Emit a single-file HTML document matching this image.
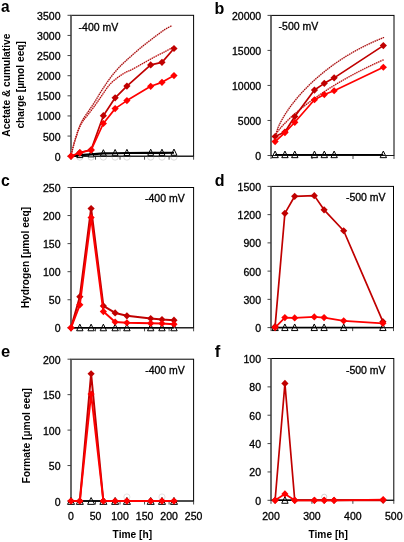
<!DOCTYPE html>
<html><head><meta charset="utf-8"><style>
html,body{margin:0;padding:0;background:#fff;}
svg{display:block;filter:blur(0.3px);}
.t{font-family:"Liberation Sans", sans-serif;font-size:10px;fill:#000;stroke:#000;stroke-width:0.3px;}
.b{font-family:"Liberation Sans", sans-serif;font-size:10.2px;font-weight:bold;fill:#000;}
.L{font-family:"Liberation Sans", sans-serif;font-size:17.2px;font-weight:bold;fill:#000;}
</style></head><body>
<svg width="404" height="542" viewBox="0 0 404 542">
<rect width="404" height="542" fill="#fff"/>
<rect x="71" y="15.3" width="122.6" height="140.9" fill="none" stroke="#000" stroke-width="1"/>
<line x1="71" y1="15.3" x2="71" y2="156.2" stroke="#666" stroke-width="1.7"/>
<line x1="67.5" y1="156.2" x2="71" y2="156.2" stroke="#333" stroke-width="0.9"/>
<line x1="67.5" y1="136.07" x2="71" y2="136.07" stroke="#333" stroke-width="0.9"/>
<line x1="67.5" y1="115.94" x2="71" y2="115.94" stroke="#333" stroke-width="0.9"/>
<line x1="67.5" y1="95.81" x2="71" y2="95.81" stroke="#333" stroke-width="0.9"/>
<line x1="67.5" y1="75.69" x2="71" y2="75.69" stroke="#333" stroke-width="0.9"/>
<line x1="67.5" y1="55.56" x2="71" y2="55.56" stroke="#333" stroke-width="0.9"/>
<line x1="67.5" y1="35.43" x2="71" y2="35.43" stroke="#333" stroke-width="0.9"/>
<line x1="67.5" y1="15.3" x2="71" y2="15.3" stroke="#333" stroke-width="0.9"/>
<line x1="71" y1="156.2" x2="71" y2="159.7" stroke="#333" stroke-width="0.9"/>
<line x1="95.52" y1="156.2" x2="95.52" y2="159.7" stroke="#333" stroke-width="0.9"/>
<line x1="120.04" y1="156.2" x2="120.04" y2="159.7" stroke="#333" stroke-width="0.9"/>
<line x1="144.56" y1="156.2" x2="144.56" y2="159.7" stroke="#333" stroke-width="0.9"/>
<line x1="169.08" y1="156.2" x2="169.08" y2="159.7" stroke="#333" stroke-width="0.9"/>
<line x1="193.6" y1="156.2" x2="193.6" y2="159.7" stroke="#333" stroke-width="0.9"/>
<text x="60.5" y="160.7" text-anchor="end" class="t" textLength="5.84" lengthAdjust="spacingAndGlyphs">0</text>
<text x="60.5" y="140.57" text-anchor="end" class="t" textLength="17.52" lengthAdjust="spacingAndGlyphs">500</text>
<text x="60.5" y="120.44" text-anchor="end" class="t" textLength="23.36" lengthAdjust="spacingAndGlyphs">1000</text>
<text x="60.5" y="100.31" text-anchor="end" class="t" textLength="23.36" lengthAdjust="spacingAndGlyphs">1500</text>
<text x="60.5" y="80.19" text-anchor="end" class="t" textLength="23.36" lengthAdjust="spacingAndGlyphs">2000</text>
<text x="60.5" y="60.06" text-anchor="end" class="t" textLength="23.36" lengthAdjust="spacingAndGlyphs">2500</text>
<text x="60.5" y="39.93" text-anchor="end" class="t" textLength="23.36" lengthAdjust="spacingAndGlyphs">3000</text>
<text x="60.5" y="19.8" text-anchor="end" class="t" textLength="23.36" lengthAdjust="spacingAndGlyphs">3500</text>
<rect x="271" y="15.4" width="123" height="140.1" fill="none" stroke="#000" stroke-width="1"/>
<line x1="271" y1="15.4" x2="271" y2="155.5" stroke="#666" stroke-width="1.7"/>
<line x1="267.5" y1="155.5" x2="271" y2="155.5" stroke="#333" stroke-width="0.9"/>
<line x1="267.5" y1="120.47" x2="271" y2="120.47" stroke="#333" stroke-width="0.9"/>
<line x1="267.5" y1="85.45" x2="271" y2="85.45" stroke="#333" stroke-width="0.9"/>
<line x1="267.5" y1="50.42" x2="271" y2="50.42" stroke="#333" stroke-width="0.9"/>
<line x1="267.5" y1="15.4" x2="271" y2="15.4" stroke="#333" stroke-width="0.9"/>
<line x1="271" y1="155.5" x2="271" y2="159" stroke="#333" stroke-width="0.9"/>
<line x1="312" y1="155.5" x2="312" y2="159" stroke="#333" stroke-width="0.9"/>
<line x1="353" y1="155.5" x2="353" y2="159" stroke="#333" stroke-width="0.9"/>
<line x1="394" y1="155.5" x2="394" y2="159" stroke="#333" stroke-width="0.9"/>
<text x="261.2" y="160" text-anchor="end" class="t" textLength="5.84" lengthAdjust="spacingAndGlyphs">0</text>
<text x="261.2" y="124.97" text-anchor="end" class="t" textLength="23.36" lengthAdjust="spacingAndGlyphs">5000</text>
<text x="261.2" y="89.95" text-anchor="end" class="t" textLength="29.2" lengthAdjust="spacingAndGlyphs">10000</text>
<text x="261.2" y="54.92" text-anchor="end" class="t" textLength="29.2" lengthAdjust="spacingAndGlyphs">15000</text>
<text x="261.2" y="19.9" text-anchor="end" class="t" textLength="29.2" lengthAdjust="spacingAndGlyphs">20000</text>
<rect x="71" y="187.5" width="122.6" height="140.3" fill="none" stroke="#000" stroke-width="1"/>
<line x1="71" y1="187.5" x2="71" y2="327.8" stroke="#666" stroke-width="1.7"/>
<line x1="67.5" y1="327.8" x2="71" y2="327.8" stroke="#333" stroke-width="0.9"/>
<line x1="67.5" y1="299.74" x2="71" y2="299.74" stroke="#333" stroke-width="0.9"/>
<line x1="67.5" y1="271.68" x2="71" y2="271.68" stroke="#333" stroke-width="0.9"/>
<line x1="67.5" y1="243.62" x2="71" y2="243.62" stroke="#333" stroke-width="0.9"/>
<line x1="67.5" y1="215.56" x2="71" y2="215.56" stroke="#333" stroke-width="0.9"/>
<line x1="67.5" y1="187.5" x2="71" y2="187.5" stroke="#333" stroke-width="0.9"/>
<line x1="71" y1="327.8" x2="71" y2="331.3" stroke="#333" stroke-width="0.9"/>
<line x1="95.52" y1="327.8" x2="95.52" y2="331.3" stroke="#333" stroke-width="0.9"/>
<line x1="120.04" y1="327.8" x2="120.04" y2="331.3" stroke="#333" stroke-width="0.9"/>
<line x1="144.56" y1="327.8" x2="144.56" y2="331.3" stroke="#333" stroke-width="0.9"/>
<line x1="169.08" y1="327.8" x2="169.08" y2="331.3" stroke="#333" stroke-width="0.9"/>
<line x1="193.6" y1="327.8" x2="193.6" y2="331.3" stroke="#333" stroke-width="0.9"/>
<text x="60.5" y="332.3" text-anchor="end" class="t" textLength="5.84" lengthAdjust="spacingAndGlyphs">0</text>
<text x="60.5" y="304.24" text-anchor="end" class="t" textLength="11.68" lengthAdjust="spacingAndGlyphs">50</text>
<text x="60.5" y="276.18" text-anchor="end" class="t" textLength="17.52" lengthAdjust="spacingAndGlyphs">100</text>
<text x="60.5" y="248.12" text-anchor="end" class="t" textLength="17.52" lengthAdjust="spacingAndGlyphs">150</text>
<text x="60.5" y="220.06" text-anchor="end" class="t" textLength="17.52" lengthAdjust="spacingAndGlyphs">200</text>
<text x="60.5" y="192" text-anchor="end" class="t" textLength="17.52" lengthAdjust="spacingAndGlyphs">250</text>
<rect x="271" y="186.4" width="122.5" height="141.2" fill="none" stroke="#000" stroke-width="1"/>
<line x1="271" y1="186.4" x2="271" y2="327.6" stroke="#666" stroke-width="1.7"/>
<line x1="267.5" y1="327.6" x2="271" y2="327.6" stroke="#333" stroke-width="0.9"/>
<line x1="267.5" y1="299.36" x2="271" y2="299.36" stroke="#333" stroke-width="0.9"/>
<line x1="267.5" y1="271.12" x2="271" y2="271.12" stroke="#333" stroke-width="0.9"/>
<line x1="267.5" y1="242.88" x2="271" y2="242.88" stroke="#333" stroke-width="0.9"/>
<line x1="267.5" y1="214.64" x2="271" y2="214.64" stroke="#333" stroke-width="0.9"/>
<line x1="267.5" y1="186.4" x2="271" y2="186.4" stroke="#333" stroke-width="0.9"/>
<line x1="271" y1="327.6" x2="271" y2="331.1" stroke="#333" stroke-width="0.9"/>
<line x1="311.83" y1="327.6" x2="311.83" y2="331.1" stroke="#333" stroke-width="0.9"/>
<line x1="352.67" y1="327.6" x2="352.67" y2="331.1" stroke="#333" stroke-width="0.9"/>
<line x1="393.5" y1="327.6" x2="393.5" y2="331.1" stroke="#333" stroke-width="0.9"/>
<text x="261" y="332.1" text-anchor="end" class="t" textLength="5.84" lengthAdjust="spacingAndGlyphs">0</text>
<text x="261" y="303.86" text-anchor="end" class="t" textLength="17.52" lengthAdjust="spacingAndGlyphs">300</text>
<text x="261" y="275.62" text-anchor="end" class="t" textLength="17.52" lengthAdjust="spacingAndGlyphs">600</text>
<text x="261" y="247.38" text-anchor="end" class="t" textLength="17.52" lengthAdjust="spacingAndGlyphs">900</text>
<text x="261" y="219.14" text-anchor="end" class="t" textLength="23.36" lengthAdjust="spacingAndGlyphs">1200</text>
<text x="261" y="190.9" text-anchor="end" class="t" textLength="23.36" lengthAdjust="spacingAndGlyphs">1500</text>
<rect x="71" y="359.2" width="122.6" height="141.8" fill="none" stroke="#000" stroke-width="1"/>
<line x1="71" y1="359.2" x2="71" y2="501" stroke="#666" stroke-width="1.7"/>
<line x1="67.5" y1="501" x2="71" y2="501" stroke="#333" stroke-width="0.9"/>
<line x1="67.5" y1="465.55" x2="71" y2="465.55" stroke="#333" stroke-width="0.9"/>
<line x1="67.5" y1="430.1" x2="71" y2="430.1" stroke="#333" stroke-width="0.9"/>
<line x1="67.5" y1="394.65" x2="71" y2="394.65" stroke="#333" stroke-width="0.9"/>
<line x1="67.5" y1="359.2" x2="71" y2="359.2" stroke="#333" stroke-width="0.9"/>
<line x1="71" y1="501" x2="71" y2="504.5" stroke="#333" stroke-width="0.9"/>
<line x1="95.52" y1="501" x2="95.52" y2="504.5" stroke="#333" stroke-width="0.9"/>
<line x1="120.04" y1="501" x2="120.04" y2="504.5" stroke="#333" stroke-width="0.9"/>
<line x1="144.56" y1="501" x2="144.56" y2="504.5" stroke="#333" stroke-width="0.9"/>
<line x1="169.08" y1="501" x2="169.08" y2="504.5" stroke="#333" stroke-width="0.9"/>
<line x1="193.6" y1="501" x2="193.6" y2="504.5" stroke="#333" stroke-width="0.9"/>
<text x="60.5" y="505.5" text-anchor="end" class="t" textLength="5.84" lengthAdjust="spacingAndGlyphs">0</text>
<text x="60.5" y="470.05" text-anchor="end" class="t" textLength="11.68" lengthAdjust="spacingAndGlyphs">50</text>
<text x="60.5" y="434.6" text-anchor="end" class="t" textLength="17.52" lengthAdjust="spacingAndGlyphs">100</text>
<text x="60.5" y="399.15" text-anchor="end" class="t" textLength="17.52" lengthAdjust="spacingAndGlyphs">150</text>
<text x="60.5" y="363.7" text-anchor="end" class="t" textLength="17.52" lengthAdjust="spacingAndGlyphs">200</text>
<rect x="271" y="358.5" width="122.8" height="141.8" fill="none" stroke="#000" stroke-width="1"/>
<line x1="271" y1="358.5" x2="271" y2="500.3" stroke="#666" stroke-width="1.7"/>
<line x1="267.5" y1="500.3" x2="271" y2="500.3" stroke="#333" stroke-width="0.9"/>
<line x1="267.5" y1="471.94" x2="271" y2="471.94" stroke="#333" stroke-width="0.9"/>
<line x1="267.5" y1="443.58" x2="271" y2="443.58" stroke="#333" stroke-width="0.9"/>
<line x1="267.5" y1="415.22" x2="271" y2="415.22" stroke="#333" stroke-width="0.9"/>
<line x1="267.5" y1="386.86" x2="271" y2="386.86" stroke="#333" stroke-width="0.9"/>
<line x1="267.5" y1="358.5" x2="271" y2="358.5" stroke="#333" stroke-width="0.9"/>
<line x1="271" y1="500.3" x2="271" y2="503.8" stroke="#333" stroke-width="0.9"/>
<line x1="311.93" y1="500.3" x2="311.93" y2="503.8" stroke="#333" stroke-width="0.9"/>
<line x1="352.87" y1="500.3" x2="352.87" y2="503.8" stroke="#333" stroke-width="0.9"/>
<line x1="393.8" y1="500.3" x2="393.8" y2="503.8" stroke="#333" stroke-width="0.9"/>
<text x="261" y="504.8" text-anchor="end" class="t" textLength="5.84" lengthAdjust="spacingAndGlyphs">0</text>
<text x="261" y="476.44" text-anchor="end" class="t" textLength="11.68" lengthAdjust="spacingAndGlyphs">20</text>
<text x="261" y="448.08" text-anchor="end" class="t" textLength="11.68" lengthAdjust="spacingAndGlyphs">40</text>
<text x="261" y="419.72" text-anchor="end" class="t" textLength="11.68" lengthAdjust="spacingAndGlyphs">60</text>
<text x="261" y="391.36" text-anchor="end" class="t" textLength="11.68" lengthAdjust="spacingAndGlyphs">80</text>
<text x="261" y="363" text-anchor="end" class="t" textLength="17.52" lengthAdjust="spacingAndGlyphs">100</text>
<path d="M71 156C71.17 155.25 71.5 153.57 72 151.5C72.5 149.43 73.33 146.02 74 143.6C74.67 141.18 75.33 139.17 76 137C76.67 134.83 77.25 132.73 78 130.6C78.75 128.47 79.67 126.08 80.5 124.2C81.33 122.32 82.08 120.87 83 119.3C83.92 117.73 84.83 116.52 86 114.8C87.17 113.08 88.5 111.22 90 109C91.5 106.78 93.33 104.13 95 101.5C96.67 98.87 98.33 95.87 100 93.2C101.67 90.53 103.33 87.98 105 85.5C106.67 83.02 108.33 80.55 110 78.3C111.67 76.05 113.33 73.98 115 72C116.67 70.02 118.33 68.13 120 66.4C121.67 64.67 123.17 63.3 125 61.6C126.83 59.9 128.1 58.73 131 56.2C133.9 53.67 138.43 49.63 142.4 46.4C146.37 43.17 151.08 39.6 154.8 36.8C158.52 34 161.83 31.47 164.7 29.6C167.57 27.73 170.78 26.27 172 25.6" fill="none" stroke="#e88080" stroke-opacity="0.55" stroke-width="1.5"/>
<path d="M71 156C71.17 155.25 71.5 153.57 72 151.5C72.5 149.43 73.33 146.02 74 143.6C74.67 141.18 75.33 139.17 76 137C76.67 134.83 77.25 132.73 78 130.6C78.75 128.47 79.67 126.08 80.5 124.2C81.33 122.32 82.08 120.87 83 119.3C83.92 117.73 84.83 116.52 86 114.8C87.17 113.08 88.5 111.22 90 109C91.5 106.78 93.33 104.13 95 101.5C96.67 98.87 98.33 95.87 100 93.2C101.67 90.53 103.33 87.98 105 85.5C106.67 83.02 108.33 80.55 110 78.3C111.67 76.05 113.33 73.98 115 72C116.67 70.02 118.33 68.13 120 66.4C121.67 64.67 123.17 63.3 125 61.6C126.83 59.9 128.1 58.73 131 56.2C133.9 53.67 138.43 49.63 142.4 46.4C146.37 43.17 151.08 39.6 154.8 36.8C158.52 34 161.83 31.47 164.7 29.6C167.57 27.73 170.78 26.27 172 25.6" fill="none" stroke="#9a0a0a" stroke-width="1.4" stroke-dasharray="0.01 2.2" stroke-linecap="round"/>
<path d="M71 156C71.17 155.25 71.5 153.57 72 151.5C72.5 149.43 73.33 145.98 74 143.6C74.67 141.22 75.33 139.27 76 137.2C76.67 135.13 77.25 133.2 78 131.2C78.75 129.2 79.62 126.97 80.5 125.2C81.38 123.43 81.95 122.48 83.3 120.6C84.65 118.72 86.6 116.5 88.6 113.9C90.6 111.3 93.4 107.62 95.3 105C97.2 102.38 98.55 100.3 100 98.2C101.45 96.1 102.67 94.33 104 92.4C105.33 90.47 106.67 88.3 108 86.6C109.33 84.9 110.53 83.6 112 82.2C113.47 80.8 115.37 79.32 116.8 78.2C118.23 77.08 119.35 76.35 120.6 75.5C121.85 74.65 123.07 73.82 124.3 73.1C125.53 72.38 126.77 71.77 128 71.2C129.23 70.63 129.3 70.95 131.7 69.7C134.1 68.45 138.55 65.85 142.4 63.7C146.25 61.55 151.08 58.78 154.8 56.8C158.52 54.82 161.83 53.28 164.7 51.8C167.57 50.32 170.78 48.55 172 47.9" fill="none" stroke="#e88080" stroke-opacity="0.55" stroke-width="1.5"/>
<path d="M71 156C71.17 155.25 71.5 153.57 72 151.5C72.5 149.43 73.33 145.98 74 143.6C74.67 141.22 75.33 139.27 76 137.2C76.67 135.13 77.25 133.2 78 131.2C78.75 129.2 79.62 126.97 80.5 125.2C81.38 123.43 81.95 122.48 83.3 120.6C84.65 118.72 86.6 116.5 88.6 113.9C90.6 111.3 93.4 107.62 95.3 105C97.2 102.38 98.55 100.3 100 98.2C101.45 96.1 102.67 94.33 104 92.4C105.33 90.47 106.67 88.3 108 86.6C109.33 84.9 110.53 83.6 112 82.2C113.47 80.8 115.37 79.32 116.8 78.2C118.23 77.08 119.35 76.35 120.6 75.5C121.85 74.65 123.07 73.82 124.3 73.1C125.53 72.38 126.77 71.77 128 71.2C129.23 70.63 129.3 70.95 131.7 69.7C134.1 68.45 138.55 65.85 142.4 63.7C146.25 61.55 151.08 58.78 154.8 56.8C158.52 54.82 161.83 53.28 164.7 51.8C167.57 50.32 170.78 48.55 172 47.9" fill="none" stroke="#b00a0a" stroke-width="1.4" stroke-dasharray="0.01 2.2" stroke-linecap="round"/>
<circle cx="79.83" cy="157" r="3.2" fill="none" stroke="#d0d0d0" stroke-width="0.8"/>
<circle cx="91.11" cy="157" r="3.2" fill="none" stroke="#d0d0d0" stroke-width="0.8"/>
<circle cx="103.37" cy="157" r="3.2" fill="none" stroke="#d0d0d0" stroke-width="0.8"/>
<circle cx="115.14" cy="157" r="3.2" fill="none" stroke="#d0d0d0" stroke-width="0.8"/>
<circle cx="126.91" cy="157" r="3.2" fill="none" stroke="#d0d0d0" stroke-width="0.8"/>
<circle cx="150.69" cy="157" r="3.2" fill="none" stroke="#d0d0d0" stroke-width="0.8"/>
<circle cx="161.97" cy="157" r="3.2" fill="none" stroke="#d0d0d0" stroke-width="0.8"/>
<circle cx="173.98" cy="157" r="3.2" fill="none" stroke="#d0d0d0" stroke-width="0.8"/>
<line x1="71" y1="156.2" x2="193.6" y2="156.2" stroke="#1a1a1a" stroke-width="1.1"/>
<path d="M79.83 151.4L82.83 157.6L76.83 157.6Z" fill="#fff" stroke="#000" stroke-width="1"/>
<path d="M91.11 150.68L94.11 156.88L88.11 156.88Z" fill="#fff" stroke="#000" stroke-width="1"/>
<path d="M103.37 149.67L106.37 155.87L100.37 155.87Z" fill="#fff" stroke="#000" stroke-width="1"/>
<path d="M115.14 149.47L118.14 155.67L112.14 155.67Z" fill="#fff" stroke="#000" stroke-width="1"/>
<path d="M126.91 149.35L129.91 155.55L123.91 155.55Z" fill="#fff" stroke="#000" stroke-width="1"/>
<path d="M150.69 149.19L153.69 155.39L147.69 155.39Z" fill="#fff" stroke="#000" stroke-width="1"/>
<path d="M161.97 149.19L164.97 155.39L158.97 155.39Z" fill="#fff" stroke="#000" stroke-width="1"/>
<path d="M173.98 149.07L176.98 155.27L170.98 155.27Z" fill="#fff" stroke="#000" stroke-width="1"/>
<polyline points="71,156.2 79.83,155.11 91.11,154.39 103.37,153.38 115.14,153.18 126.91,153.06 150.69,152.9 161.97,152.9 173.98,152.78" fill="none" stroke="#000" stroke-width="2.1" stroke-linejoin="round" />
<polyline points="71,156.2 79.83,152.58 91.11,149.76 103.37,115.7 115.14,97.83 126.91,86.11 150.69,64.9 161.97,62.32 173.98,48.51" fill="none" stroke="#C00000" stroke-width="1.7" stroke-linejoin="round" />
<path d="M71 152.6L74.6 156.2L71 159.8L67.4 156.2Z" fill="#C00000"/>
<path d="M79.83 148.98L83.43 152.58L79.83 156.18L76.23 152.58Z" fill="#C00000"/>
<path d="M91.11 146.16L94.71 149.76L91.11 153.36L87.51 149.76Z" fill="#C00000"/>
<path d="M103.37 112.1L106.97 115.7L103.37 119.3L99.77 115.7Z" fill="#C00000"/>
<path d="M115.14 94.23L118.74 97.83L115.14 101.43L111.54 97.83Z" fill="#C00000"/>
<path d="M126.91 82.51L130.51 86.11L126.91 89.71L123.31 86.11Z" fill="#C00000"/>
<path d="M150.69 61.3L154.29 64.9L150.69 68.5L147.09 64.9Z" fill="#C00000"/>
<path d="M161.97 58.72L165.57 62.32L161.97 65.92L158.37 62.32Z" fill="#C00000"/>
<path d="M173.98 44.91L177.58 48.51L173.98 52.11L170.38 48.51Z" fill="#C00000"/>
<polyline points="71,156.2 79.83,152.78 91.11,150.16 103.37,123.51 115.14,108.62 126.91,100.6 150.69,86.31 161.97,82.33 173.98,75.61" fill="none" stroke="#FF0000" stroke-width="1.7" stroke-linejoin="round" />
<path d="M71 152.6L74.6 156.2L71 159.8L67.4 156.2Z" fill="#FF0000"/>
<path d="M79.83 149.18L83.43 152.78L79.83 156.38L76.23 152.78Z" fill="#FF0000"/>
<path d="M91.11 146.56L94.71 150.16L91.11 153.76L87.51 150.16Z" fill="#FF0000"/>
<path d="M103.37 119.91L106.97 123.51L103.37 127.11L99.77 123.51Z" fill="#FF0000"/>
<path d="M115.14 105.02L118.74 108.62L115.14 112.22L111.54 108.62Z" fill="#FF0000"/>
<path d="M126.91 97L130.51 100.6L126.91 104.2L123.31 100.6Z" fill="#FF0000"/>
<path d="M150.69 82.71L154.29 86.31L150.69 89.91L147.09 86.31Z" fill="#FF0000"/>
<path d="M161.97 78.73L165.57 82.33L161.97 85.93L158.37 82.33Z" fill="#FF0000"/>
<path d="M173.98 72.01L177.58 75.61L173.98 79.21L170.38 75.61Z" fill="#FF0000"/>
<path d="M275.3 135.74C275.76 134.38 277.15 129.91 278.08 127.58C279 125.24 279.93 123.54 280.85 121.74C281.78 119.93 282.71 118.34 283.63 116.77C284.56 115.2 285.48 113.75 286.41 112.33C287.33 110.91 288.26 109.57 289.18 108.26C290.11 106.95 291.04 105.7 291.96 104.48C292.89 103.25 293.81 102.07 294.74 100.92C295.66 99.77 296.59 98.65 297.52 97.56C298.44 96.47 299.37 95.41 300.29 94.37C301.22 93.33 302.14 92.31 303.07 91.32C303.99 90.33 304.92 89.36 305.85 88.41C306.77 87.46 307.7 86.53 308.62 85.61C309.55 84.7 310.47 83.81 311.4 82.93C312.33 82.05 313.25 81.19 314.18 80.35C315.1 79.5 316.03 78.68 316.95 77.86C317.88 77.05 318.81 76.25 319.73 75.46C320.66 74.68 321.58 73.91 322.51 73.15C323.43 72.39 324.36 71.64 325.28 70.91C326.21 70.18 327.14 69.46 328.06 68.75C328.99 68.04 329.91 67.34 330.84 66.66C331.76 65.97 332.69 65.3 333.62 64.64C334.54 63.97 335.47 63.32 336.39 62.68C337.32 62.04 338.24 61.41 339.17 60.79C340.09 60.16 341.02 59.55 341.95 58.95C342.87 58.35 343.8 57.76 344.72 57.18C345.65 56.59 346.57 56.02 347.5 55.46C348.43 54.89 349.35 54.34 350.28 53.79C351.2 53.25 352.13 52.71 353.05 52.18C353.98 51.65 354.91 51.13 355.83 50.62C356.76 50.11 357.68 49.61 358.61 49.11C359.53 48.61 360.46 48.13 361.38 47.65C362.31 47.17 363.24 46.7 364.16 46.23C365.09 45.77 366.01 45.31 366.94 44.86C367.86 44.42 368.79 43.97 369.72 43.54C370.64 43.11 371.57 42.68 372.49 42.26C373.42 41.84 374.34 41.43 375.27 41.02C376.19 40.62 377.12 40.22 378.05 39.83C378.97 39.44 379.9 39.05 380.82 38.68C381.75 38.3 383.14 37.75 383.6 37.56" fill="none" stroke="#e88080" stroke-opacity="0.55" stroke-width="1.5"/>
<path d="M275.3 135.74C275.76 134.38 277.15 129.91 278.08 127.58C279 125.24 279.93 123.54 280.85 121.74C281.78 119.93 282.71 118.34 283.63 116.77C284.56 115.2 285.48 113.75 286.41 112.33C287.33 110.91 288.26 109.57 289.18 108.26C290.11 106.95 291.04 105.7 291.96 104.48C292.89 103.25 293.81 102.07 294.74 100.92C295.66 99.77 296.59 98.65 297.52 97.56C298.44 96.47 299.37 95.41 300.29 94.37C301.22 93.33 302.14 92.31 303.07 91.32C303.99 90.33 304.92 89.36 305.85 88.41C306.77 87.46 307.7 86.53 308.62 85.61C309.55 84.7 310.47 83.81 311.4 82.93C312.33 82.05 313.25 81.19 314.18 80.35C315.1 79.5 316.03 78.68 316.95 77.86C317.88 77.05 318.81 76.25 319.73 75.46C320.66 74.68 321.58 73.91 322.51 73.15C323.43 72.39 324.36 71.64 325.28 70.91C326.21 70.18 327.14 69.46 328.06 68.75C328.99 68.04 329.91 67.34 330.84 66.66C331.76 65.97 332.69 65.3 333.62 64.64C334.54 63.97 335.47 63.32 336.39 62.68C337.32 62.04 338.24 61.41 339.17 60.79C340.09 60.16 341.02 59.55 341.95 58.95C342.87 58.35 343.8 57.76 344.72 57.18C345.65 56.59 346.57 56.02 347.5 55.46C348.43 54.89 349.35 54.34 350.28 53.79C351.2 53.25 352.13 52.71 353.05 52.18C353.98 51.65 354.91 51.13 355.83 50.62C356.76 50.11 357.68 49.61 358.61 49.11C359.53 48.61 360.46 48.13 361.38 47.65C362.31 47.17 363.24 46.7 364.16 46.23C365.09 45.77 366.01 45.31 366.94 44.86C367.86 44.42 368.79 43.97 369.72 43.54C370.64 43.11 371.57 42.68 372.49 42.26C373.42 41.84 374.34 41.43 375.27 41.02C376.19 40.62 377.12 40.22 378.05 39.83C378.97 39.44 379.9 39.05 380.82 38.68C381.75 38.3 383.14 37.75 383.6 37.56" fill="none" stroke="#9a0a0a" stroke-width="1.4" stroke-dasharray="0.01 2.2" stroke-linecap="round"/>
<path d="M275.3 135.34C275.76 134.62 277.15 132.32 278.08 131.03C279 129.74 279.93 128.69 280.85 127.6C281.78 126.52 282.71 125.52 283.63 124.53C284.56 123.54 285.48 122.6 286.41 121.67C287.33 120.74 288.26 119.85 289.18 118.97C290.11 118.09 291.04 117.23 291.96 116.39C292.89 115.55 293.81 114.73 294.74 113.92C295.66 113.11 296.59 112.31 297.52 111.53C298.44 110.75 299.37 109.98 300.29 109.23C301.22 108.47 302.14 107.72 303.07 106.99C303.99 106.25 304.92 105.53 305.85 104.82C306.77 104.1 307.7 103.4 308.62 102.7C309.55 102 310.47 101.32 311.4 100.64C312.33 99.96 313.25 99.29 314.18 98.63C315.1 97.96 316.03 97.31 316.95 96.66C317.88 96.02 318.81 95.38 319.73 94.74C320.66 94.11 321.58 93.49 322.51 92.87C323.43 92.25 324.36 91.64 325.28 91.03C326.21 90.43 327.14 89.83 328.06 89.24C328.99 88.64 329.91 88.06 330.84 87.48C331.76 86.9 332.69 86.32 333.62 85.75C334.54 85.18 335.47 84.62 336.39 84.06C337.32 83.51 338.24 82.95 339.17 82.41C340.09 81.86 341.02 81.32 341.95 80.78C342.87 80.25 343.8 79.72 344.72 79.19C345.65 78.66 346.57 78.14 347.5 77.63C348.43 77.11 349.35 76.6 350.28 76.09C351.2 75.59 352.13 75.09 353.05 74.59C353.98 74.09 354.91 73.6 355.83 73.11C356.76 72.63 357.68 72.14 358.61 71.67C359.53 71.19 360.46 70.71 361.38 70.24C362.31 69.77 363.24 69.31 364.16 68.85C365.09 68.39 366.01 67.93 366.94 67.48C367.86 67.02 368.79 66.57 369.72 66.13C370.64 65.69 371.57 65.25 372.49 64.81C373.42 64.37 374.34 63.94 375.27 63.51C376.19 63.08 377.12 62.66 378.05 62.24C378.97 61.82 379.9 61.4 380.82 60.99C381.75 60.57 383.14 59.96 383.6 59.76" fill="none" stroke="#e88080" stroke-opacity="0.55" stroke-width="1.5"/>
<path d="M275.3 135.34C275.76 134.62 277.15 132.32 278.08 131.03C279 129.74 279.93 128.69 280.85 127.6C281.78 126.52 282.71 125.52 283.63 124.53C284.56 123.54 285.48 122.6 286.41 121.67C287.33 120.74 288.26 119.85 289.18 118.97C290.11 118.09 291.04 117.23 291.96 116.39C292.89 115.55 293.81 114.73 294.74 113.92C295.66 113.11 296.59 112.31 297.52 111.53C298.44 110.75 299.37 109.98 300.29 109.23C301.22 108.47 302.14 107.72 303.07 106.99C303.99 106.25 304.92 105.53 305.85 104.82C306.77 104.1 307.7 103.4 308.62 102.7C309.55 102 310.47 101.32 311.4 100.64C312.33 99.96 313.25 99.29 314.18 98.63C315.1 97.96 316.03 97.31 316.95 96.66C317.88 96.02 318.81 95.38 319.73 94.74C320.66 94.11 321.58 93.49 322.51 92.87C323.43 92.25 324.36 91.64 325.28 91.03C326.21 90.43 327.14 89.83 328.06 89.24C328.99 88.64 329.91 88.06 330.84 87.48C331.76 86.9 332.69 86.32 333.62 85.75C334.54 85.18 335.47 84.62 336.39 84.06C337.32 83.51 338.24 82.95 339.17 82.41C340.09 81.86 341.02 81.32 341.95 80.78C342.87 80.25 343.8 79.72 344.72 79.19C345.65 78.66 346.57 78.14 347.5 77.63C348.43 77.11 349.35 76.6 350.28 76.09C351.2 75.59 352.13 75.09 353.05 74.59C353.98 74.09 354.91 73.6 355.83 73.11C356.76 72.63 357.68 72.14 358.61 71.67C359.53 71.19 360.46 70.71 361.38 70.24C362.31 69.77 363.24 69.31 364.16 68.85C365.09 68.39 366.01 67.93 366.94 67.48C367.86 67.02 368.79 66.57 369.72 66.13C370.64 65.69 371.57 65.25 372.49 64.81C373.42 64.37 374.34 63.94 375.27 63.51C376.19 63.08 377.12 62.66 378.05 62.24C378.97 61.82 379.9 61.4 380.82 60.99C381.75 60.57 383.14 59.96 383.6 59.76" fill="none" stroke="#b00a0a" stroke-width="1.4" stroke-dasharray="0.01 2.2" stroke-linecap="round"/>
<path d="M275.1 151.07L278.3 157.67L271.9 157.67Z" fill="#fff" stroke="#000" stroke-width="1"/>
<path d="M284.94 151.07L288.14 157.67L281.74 157.67Z" fill="#fff" stroke="#000" stroke-width="1"/>
<path d="M294.78 151.07L297.98 157.67L291.58 157.67Z" fill="#fff" stroke="#000" stroke-width="1"/>
<path d="M314.46 151.07L317.66 157.67L311.26 157.67Z" fill="#fff" stroke="#000" stroke-width="1"/>
<path d="M324.3 151.07L327.5 157.67L321.1 157.67Z" fill="#fff" stroke="#000" stroke-width="1"/>
<path d="M334.14 151.07L337.34 157.67L330.94 157.67Z" fill="#fff" stroke="#000" stroke-width="1"/>
<path d="M383.34 151.07L386.54 157.67L380.14 157.67Z" fill="#fff" stroke="#000" stroke-width="1"/>
<line x1="271" y1="155.5" x2="394" y2="155.5" stroke="#1a1a1a" stroke-width="1.1"/>
<polyline points="275.1,154.7 284.94,154.7 294.78,154.7 314.46,154.7 324.3,154.7 334.14,154.7 383.34,154.7" fill="none" stroke="#000" stroke-width="1.6" stroke-linejoin="round" />
<polyline points="275.1,136.49 284.94,131.98 294.78,116.48 314.46,90.05 324.3,83.35 334.14,77.84 383.34,45.62" fill="none" stroke="#C00000" stroke-width="1.7" stroke-linejoin="round" />
<path d="M275.1 132.89L278.7 136.49L275.1 140.09L271.5 136.49Z" fill="#C00000"/>
<path d="M284.94 128.38L288.54 131.98L284.94 135.58L281.34 131.98Z" fill="#C00000"/>
<path d="M294.78 112.88L298.38 116.48L294.78 120.08L291.18 116.48Z" fill="#C00000"/>
<path d="M314.46 86.45L318.06 90.05L314.46 93.65L310.86 90.05Z" fill="#C00000"/>
<path d="M324.3 79.75L327.9 83.35L324.3 86.95L320.7 83.35Z" fill="#C00000"/>
<path d="M334.14 74.24L337.74 77.84L334.14 81.44L330.54 77.84Z" fill="#C00000"/>
<path d="M383.34 42.02L386.94 45.62L383.34 49.22L379.74 45.62Z" fill="#C00000"/>
<polyline points="275.1,141.59 284.94,132.59 294.78,122.28 314.46,99.76 324.3,94.56 334.14,90.75 383.34,67.24" fill="none" stroke="#FF0000" stroke-width="1.7" stroke-linejoin="round" />
<path d="M275.1 137.99L278.7 141.59L275.1 145.19L271.5 141.59Z" fill="#FF0000"/>
<path d="M284.94 128.99L288.54 132.59L284.94 136.19L281.34 132.59Z" fill="#FF0000"/>
<path d="M294.78 118.68L298.38 122.28L294.78 125.88L291.18 122.28Z" fill="#FF0000"/>
<path d="M314.46 96.16L318.06 99.76L314.46 103.36L310.86 99.76Z" fill="#FF0000"/>
<path d="M324.3 90.96L327.9 94.56L324.3 98.16L320.7 94.56Z" fill="#FF0000"/>
<path d="M334.14 87.15L337.74 90.75L334.14 94.35L330.54 90.75Z" fill="#FF0000"/>
<path d="M383.34 63.64L386.94 67.24L383.34 70.84L379.74 67.24Z" fill="#FF0000"/>
<path d="M79.83 324.17L83.03 330.77L76.63 330.77Z" fill="#fff" stroke="#000" stroke-width="1"/>
<path d="M91.11 324.17L94.31 330.77L87.91 330.77Z" fill="#fff" stroke="#000" stroke-width="1"/>
<path d="M103.37 324.17L106.57 330.77L100.17 330.77Z" fill="#fff" stroke="#000" stroke-width="1"/>
<path d="M115.14 324.17L118.34 330.77L111.94 330.77Z" fill="#fff" stroke="#000" stroke-width="1"/>
<path d="M126.91 324.17L130.11 330.77L123.71 330.77Z" fill="#fff" stroke="#000" stroke-width="1"/>
<path d="M150.69 324.17L153.89 330.77L147.49 330.77Z" fill="#fff" stroke="#000" stroke-width="1"/>
<path d="M161.97 324.17L165.17 330.77L158.77 330.77Z" fill="#fff" stroke="#000" stroke-width="1"/>
<path d="M173.98 324.17L177.18 330.77L170.78 330.77Z" fill="#fff" stroke="#000" stroke-width="1"/>
<line x1="71" y1="327.8" x2="193.6" y2="327.8" stroke="#1a1a1a" stroke-width="1.1"/>
<polyline points="71,327.8 79.83,327.8 91.11,327.8 103.37,327.8 115.14,327.8 126.91,327.8 150.69,327.8 161.97,327.8 173.98,327.8" fill="none" stroke="#000" stroke-width="1.5" stroke-linejoin="round" />
<polyline points="71,327.8 79.83,296.71 91.11,208.49 103.37,305.91 115.14,312.93 126.91,315.79 150.69,318.48 161.97,319.49 173.98,320.22" fill="none" stroke="#C00000" stroke-width="2.0" stroke-linejoin="round" />
<path d="M71 324.2L74.6 327.8L71 331.4L67.4 327.8Z" fill="#C00000"/>
<path d="M79.83 293.11L83.43 296.71L79.83 300.31L76.23 296.71Z" fill="#C00000"/>
<path d="M91.11 204.89L94.71 208.49L91.11 212.09L87.51 208.49Z" fill="#C00000"/>
<path d="M103.37 302.31L106.97 305.91L103.37 309.51L99.77 305.91Z" fill="#C00000"/>
<path d="M115.14 309.33L118.74 312.93L115.14 316.53L111.54 312.93Z" fill="#C00000"/>
<path d="M126.91 312.19L130.51 315.79L126.91 319.39L123.31 315.79Z" fill="#C00000"/>
<path d="M150.69 314.88L154.29 318.48L150.69 322.08L147.09 318.48Z" fill="#C00000"/>
<path d="M161.97 315.89L165.57 319.49L161.97 323.09L158.37 319.49Z" fill="#C00000"/>
<path d="M173.98 316.62L177.58 320.22L173.98 323.82L170.38 320.22Z" fill="#C00000"/>
<polyline points="71,327.8 79.83,304.79 91.11,217.52 103.37,311.58 115.14,322.02 126.91,322.75 150.69,323.31 161.97,323.48 173.98,324.21" fill="none" stroke="#FF0000" stroke-width="1.9" stroke-linejoin="round" />
<path d="M71 324.2L74.6 327.8L71 331.4L67.4 327.8Z" fill="#FF0000"/>
<path d="M79.83 301.19L83.43 304.79L79.83 308.39L76.23 304.79Z" fill="#FF0000"/>
<path d="M91.11 213.92L94.71 217.52L91.11 221.12L87.51 217.52Z" fill="#FF0000"/>
<path d="M103.37 307.98L106.97 311.58L103.37 315.18L99.77 311.58Z" fill="#FF0000"/>
<path d="M115.14 318.42L118.74 322.02L115.14 325.62L111.54 322.02Z" fill="#FF0000"/>
<path d="M126.91 319.15L130.51 322.75L126.91 326.35L123.31 322.75Z" fill="#FF0000"/>
<path d="M150.69 319.71L154.29 323.31L150.69 326.91L147.09 323.31Z" fill="#FF0000"/>
<path d="M161.97 319.88L165.57 323.48L161.97 327.08L158.37 323.48Z" fill="#FF0000"/>
<path d="M173.98 320.61L177.58 324.21L173.98 327.81L170.38 324.21Z" fill="#FF0000"/>
<path d="M275.08 323.97L278.28 330.57L271.88 330.57Z" fill="#fff" stroke="#000" stroke-width="1"/>
<path d="M284.88 323.97L288.08 330.57L281.68 330.57Z" fill="#fff" stroke="#000" stroke-width="1"/>
<path d="M294.68 323.97L297.88 330.57L291.48 330.57Z" fill="#fff" stroke="#000" stroke-width="1"/>
<path d="M314.28 323.97L317.48 330.57L311.08 330.57Z" fill="#fff" stroke="#000" stroke-width="1"/>
<path d="M324.08 323.97L327.28 330.57L320.88 330.57Z" fill="#fff" stroke="#000" stroke-width="1"/>
<path d="M343.68 323.97L346.88 330.57L340.48 330.57Z" fill="#fff" stroke="#000" stroke-width="1"/>
<path d="M382.88 323.97L386.08 330.57L379.68 330.57Z" fill="#fff" stroke="#000" stroke-width="1"/>
<line x1="271" y1="327.6" x2="393.5" y2="327.6" stroke="#1a1a1a" stroke-width="1.1"/>
<polyline points="275.08,327.6 284.88,327.6 294.68,327.6 314.28,327.6 324.08,327.6 343.68,327.6 382.88,327.6" fill="none" stroke="#000" stroke-width="1.5" stroke-linejoin="round" />
<polyline points="275.08,326.66 284.88,213.32 294.68,196.28 314.28,195.63 324.08,209.84 343.68,230.74 382.88,321.67" fill="none" stroke="#C00000" stroke-width="1.7" stroke-linejoin="round" />
<path d="M275.08 323.06L278.68 326.66L275.08 330.26L271.48 326.66Z" fill="#C00000"/>
<path d="M284.88 209.72L288.48 213.32L284.88 216.92L281.28 213.32Z" fill="#C00000"/>
<path d="M294.68 192.68L298.28 196.28L294.68 199.88L291.08 196.28Z" fill="#C00000"/>
<path d="M314.28 192.03L317.88 195.63L314.28 199.23L310.68 195.63Z" fill="#C00000"/>
<path d="M324.08 206.24L327.68 209.84L324.08 213.44L320.48 209.84Z" fill="#C00000"/>
<path d="M343.68 227.14L347.28 230.74L343.68 234.34L340.08 230.74Z" fill="#C00000"/>
<path d="M382.88 318.07L386.48 321.67L382.88 325.27L379.28 321.67Z" fill="#C00000"/>
<polyline points="275.08,327.6 284.88,317.62 294.68,317.9 314.28,316.96 324.08,317.62 343.68,320.82 382.88,323.36" fill="none" stroke="#FF0000" stroke-width="1.7" stroke-linejoin="round" />
<path d="M275.08 324L278.68 327.6L275.08 331.2L271.48 327.6Z" fill="#FF0000"/>
<path d="M284.88 314.02L288.48 317.62L284.88 321.22L281.28 317.62Z" fill="#FF0000"/>
<path d="M294.68 314.3L298.28 317.9L294.68 321.5L291.08 317.9Z" fill="#FF0000"/>
<path d="M314.28 313.36L317.88 316.96L314.28 320.56L310.68 316.96Z" fill="#FF0000"/>
<path d="M324.08 314.02L327.68 317.62L324.08 321.22L320.48 317.62Z" fill="#FF0000"/>
<path d="M343.68 317.22L347.28 320.82L343.68 324.42L340.08 320.82Z" fill="#FF0000"/>
<path d="M382.88 319.76L386.48 323.36L382.88 326.96L379.28 323.36Z" fill="#FF0000"/>
<circle cx="126.91" cy="497" r="3.1" fill="none" stroke="#dcdcdc" stroke-width="0.8"/>
<circle cx="161.97" cy="497" r="3.1" fill="none" stroke="#dcdcdc" stroke-width="0.8"/>
<path d="M71 497.56L74.5 504.36L67.5 504.36Z" fill="#fff" stroke="#000" stroke-width="1"/>
<path d="M79.83 497.56L83.33 504.36L76.33 504.36Z" fill="#fff" stroke="#000" stroke-width="1"/>
<path d="M91.11 497.56L94.61 504.36L87.61 504.36Z" fill="#fff" stroke="#000" stroke-width="1"/>
<path d="M103.37 497.56L106.87 504.36L99.87 504.36Z" fill="#fff" stroke="#000" stroke-width="1"/>
<path d="M115.14 497.56L118.64 504.36L111.64 504.36Z" fill="#fff" stroke="#000" stroke-width="1"/>
<path d="M126.91 497.56L130.41 504.36L123.41 504.36Z" fill="#fff" stroke="#000" stroke-width="1"/>
<path d="M150.69 497.56L154.19 504.36L147.19 504.36Z" fill="#fff" stroke="#000" stroke-width="1"/>
<path d="M161.97 497.56L165.47 504.36L158.47 504.36Z" fill="#fff" stroke="#000" stroke-width="1"/>
<path d="M173.98 497.56L177.48 504.36L170.48 504.36Z" fill="#fff" stroke="#000" stroke-width="1"/>
<line x1="71" y1="501" x2="193.6" y2="501" stroke="#1a1a1a" stroke-width="1.1"/>
<polyline points="71,501 79.83,501 91.11,501 103.37,501 115.14,501 126.91,501 150.69,501 161.97,501 173.98,501" fill="none" stroke="#000" stroke-width="1.4" stroke-linejoin="round" />
<polyline points="71,501 79.83,501 91.11,373.73 103.37,501 115.14,501 126.91,501 150.69,501 161.97,501 173.98,501" fill="none" stroke="#C00000" stroke-width="2.0" stroke-linejoin="round" />
<path d="M71 497.4L74.6 501L71 504.6L67.4 501Z" fill="#C00000"/>
<path d="M79.83 497.4L83.43 501L79.83 504.6L76.23 501Z" fill="#C00000"/>
<path d="M91.11 370.13L94.71 373.73L91.11 377.33L87.51 373.73Z" fill="#C00000"/>
<path d="M103.37 497.4L106.97 501L103.37 504.6L99.77 501Z" fill="#C00000"/>
<path d="M115.14 497.4L118.74 501L115.14 504.6L111.54 501Z" fill="#C00000"/>
<path d="M126.91 497.4L130.51 501L126.91 504.6L123.31 501Z" fill="#C00000"/>
<path d="M150.69 497.4L154.29 501L150.69 504.6L147.09 501Z" fill="#C00000"/>
<path d="M161.97 497.4L165.57 501L161.97 504.6L158.37 501Z" fill="#C00000"/>
<path d="M173.98 497.4L177.58 501L173.98 504.6L170.38 501Z" fill="#C00000"/>
<polyline points="71,501 79.83,501 91.11,394.08 103.37,501 115.14,501 126.91,501 150.69,501 161.97,501 173.98,501" fill="none" stroke="#FF0000" stroke-width="1.9" stroke-linejoin="round" />
<path d="M71 497.4L74.6 501L71 504.6L67.4 501Z" fill="#FF0000"/>
<path d="M79.83 497.4L83.43 501L79.83 504.6L76.23 501Z" fill="#FF0000"/>
<path d="M91.11 390.48L94.71 394.08L91.11 397.68L87.51 394.08Z" fill="#FF0000"/>
<path d="M103.37 497.4L106.97 501L103.37 504.6L99.77 501Z" fill="#FF0000"/>
<path d="M115.14 497.4L118.74 501L115.14 504.6L111.54 501Z" fill="#FF0000"/>
<path d="M126.91 497.4L130.51 501L126.91 504.6L123.31 501Z" fill="#FF0000"/>
<path d="M150.69 497.4L154.29 501L150.69 504.6L147.09 501Z" fill="#FF0000"/>
<path d="M161.97 497.4L165.57 501L161.97 504.6L158.37 501Z" fill="#FF0000"/>
<path d="M173.98 497.4L177.58 501L173.98 504.6L170.38 501Z" fill="#FF0000"/>
<path d="M284.92 496.67L288.12 503.27L281.72 503.27Z" fill="#fff" stroke="#000" stroke-width="1"/>
<line x1="271" y1="500.3" x2="393.8" y2="500.3" stroke="#1a1a1a" stroke-width="1.1"/>
<polyline points="275.09,500.3 284.92,500.3 294.74,500.3 314.39,500.3 324.21,500.3 334.04,500.3 383.16,500.3" fill="none" stroke="#000" stroke-width="1.4" stroke-linejoin="round" />
<circle cx="324.21" cy="496.8" r="2.6" fill="none" stroke="#c8c8c8" stroke-width="0.8"/>
<polyline points="275.09,500.3 284.92,383.46 294.74,500.3 314.39,500.3 324.21,500.3 334.04,500.3 383.16,500.3" fill="none" stroke="#C00000" stroke-width="1.7" stroke-linejoin="round" />
<path d="M275.09 496.7L278.69 500.3L275.09 503.9L271.49 500.3Z" fill="#C00000"/>
<path d="M284.92 379.86L288.52 383.46L284.92 387.06L281.32 383.46Z" fill="#C00000"/>
<path d="M294.74 496.7L298.34 500.3L294.74 503.9L291.14 500.3Z" fill="#C00000"/>
<path d="M314.39 496.7L317.99 500.3L314.39 503.9L310.79 500.3Z" fill="#C00000"/>
<path d="M324.21 496.7L327.81 500.3L324.21 503.9L320.61 500.3Z" fill="#C00000"/>
<path d="M334.04 496.7L337.64 500.3L334.04 503.9L330.44 500.3Z" fill="#C00000"/>
<path d="M383.16 496.7L386.76 500.3L383.16 503.9L379.56 500.3Z" fill="#C00000"/>
<polyline points="275.09,500.3 284.92,493.92 294.74,500.3 314.39,500.3 324.21,500.3 334.04,500.3 383.16,499.59" fill="none" stroke="#FF0000" stroke-width="1.7" stroke-linejoin="round" />
<path d="M275.09 496.7L278.69 500.3L275.09 503.9L271.49 500.3Z" fill="#FF0000"/>
<path d="M284.92 490.32L288.52 493.92L284.92 497.52L281.32 493.92Z" fill="#FF0000"/>
<path d="M294.74 496.7L298.34 500.3L294.74 503.9L291.14 500.3Z" fill="#FF0000"/>
<path d="M314.39 496.7L317.99 500.3L314.39 503.9L310.79 500.3Z" fill="#FF0000"/>
<path d="M324.21 496.7L327.81 500.3L324.21 503.9L320.61 500.3Z" fill="#FF0000"/>
<path d="M334.04 496.7L337.64 500.3L334.04 503.9L330.44 500.3Z" fill="#FF0000"/>
<path d="M383.16 495.99L386.76 499.59L383.16 503.19L379.56 499.59Z" fill="#FF0000"/>
<text x="78.6" y="30.6" class="t" text-anchor="start" textLength="39.68" lengthAdjust="spacingAndGlyphs">-400 mV</text>
<text x="278.6" y="29.9" class="t" text-anchor="start" textLength="39.68" lengthAdjust="spacingAndGlyphs">-500 mV</text>
<text x="145" y="202" class="t" text-anchor="start" textLength="39.68" lengthAdjust="spacingAndGlyphs">-400 mV</text>
<text x="345.9" y="201.2" class="t" text-anchor="start" textLength="39.68" lengthAdjust="spacingAndGlyphs">-500 mV</text>
<text x="145.2" y="373.6" class="t" text-anchor="start" textLength="39.68" lengthAdjust="spacingAndGlyphs">-400 mV</text>
<text x="345.9" y="373.6" class="t" text-anchor="start" textLength="39.68" lengthAdjust="spacingAndGlyphs">-500 mV</text>
<text x="71" y="520" class="t" text-anchor="middle" textLength="5.84" lengthAdjust="spacingAndGlyphs">0</text>
<text x="95.52" y="520" class="t" text-anchor="middle" textLength="11.68" lengthAdjust="spacingAndGlyphs">50</text>
<text x="120.04" y="520" class="t" text-anchor="middle" textLength="17.52" lengthAdjust="spacingAndGlyphs">100</text>
<text x="144.56" y="520" class="t" text-anchor="middle" textLength="17.52" lengthAdjust="spacingAndGlyphs">150</text>
<text x="169.08" y="520" class="t" text-anchor="middle" textLength="17.52" lengthAdjust="spacingAndGlyphs">200</text>
<text x="193.6" y="520" class="t" text-anchor="middle" textLength="17.52" lengthAdjust="spacingAndGlyphs">250</text>
<text x="271" y="519.8" class="t" text-anchor="middle" textLength="17.52" lengthAdjust="spacingAndGlyphs">200</text>
<text x="311.93" y="519.8" class="t" text-anchor="middle" textLength="17.52" lengthAdjust="spacingAndGlyphs">300</text>
<text x="352.87" y="519.8" class="t" text-anchor="middle" textLength="17.52" lengthAdjust="spacingAndGlyphs">400</text>
<text x="393.8" y="519.8" class="t" text-anchor="middle" textLength="17.52" lengthAdjust="spacingAndGlyphs">500</text>
<text x="112.6" y="537.9" class="b" text-anchor="start" >Time [h]</text>
<text x="308.5" y="537.9" class="b" text-anchor="start" >Time [h]</text>
<text transform="translate(10,85.2) rotate(-90)" class="b" text-anchor="middle" textLength="103" lengthAdjust="spacingAndGlyphs">Acetate &amp; cumulative</text>
<text transform="translate(23.7,84.8) rotate(-90)" class="b" text-anchor="middle" textLength="87.5" lengthAdjust="spacingAndGlyphs">charge [µmol eeq]</text>
<text transform="translate(28.8,257.6) rotate(-90)" class="b" text-anchor="middle" textLength="101.5" lengthAdjust="spacingAndGlyphs">Hydrogen [µmol eeq]</text>
<text transform="translate(29.8,435.8) rotate(-90)" class="b" text-anchor="middle" textLength="95.6" lengthAdjust="spacingAndGlyphs">Formate [µmol eeq]</text>
<text x="1" y="11.9" class="L" textLength="8.6" lengthAdjust="spacingAndGlyphs">a</text>
<text x="214.6" y="13.8" class="L" textLength="9.8" lengthAdjust="spacingAndGlyphs">b</text>
<text x="0.9" y="186" class="L" textLength="8.8" lengthAdjust="spacingAndGlyphs">c</text>
<text x="214.8" y="185.6" class="L" textLength="9.8" lengthAdjust="spacingAndGlyphs">d</text>
<text x="0.9" y="356.7" class="L" textLength="9.2" lengthAdjust="spacingAndGlyphs">e</text>
<text x="214.8" y="356.7" class="L" textLength="5.6" lengthAdjust="spacingAndGlyphs">f</text>
</svg>
</body></html>
